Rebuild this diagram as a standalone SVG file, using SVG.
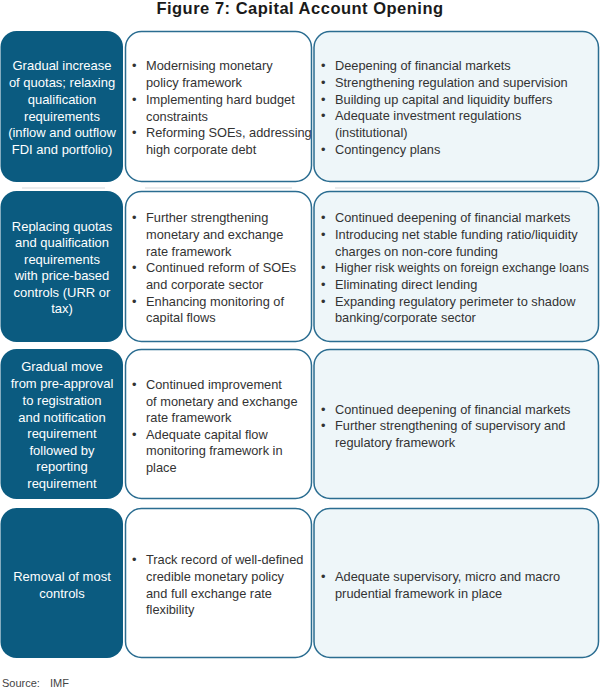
<svg xmlns="http://www.w3.org/2000/svg" width="600" height="689" viewBox="0 0 600 689">
<style>
.dark{fill:#0b5b80;}
.mid{fill:#ffffff;stroke:#2b6d91;stroke-width:1.5;}
.lite{fill:#eef6f9;stroke:#2b6d91;stroke-width:1.5;}
.shadow{fill:none;stroke:#e3e6e8;stroke-width:1.5;}
text{font-family:"Liberation Sans",Arial,sans-serif;}
.title{font-size:16.5px;font-weight:bold;fill:#1a1a1a;letter-spacing:0.5px;}
.dt{font-size:13px;fill:#ffffff;text-anchor:middle;}
.t{font-size:12.8px;fill:#333333;}
.src{font-size:11px;fill:#444444;}
</style>
<rect width="600" height="689" fill="#ffffff"/>
<text class="title" x="300" y="14" text-anchor="middle">Figure 7: Capital Account Opening</text>

<g id="shadows">
<line class="shadow" x1="22" y1="188" x2="105" y2="188"/>
<line class="shadow" x1="145" y1="188" x2="292" y2="188"/>
<line class="shadow" x1="335" y1="188" x2="580" y2="188"/>
</g>

<g id="row1-stage">
<rect class="dark" x="0.5" y="31" width="122.5" height="151" rx="16"/>
<text class="dt"><tspan x="62" y="70">Gradual increase</tspan><tspan x="62" y="87">of quotas; relaxing</tspan><tspan x="62" y="104">qualification</tspan><tspan x="62" y="121">requirements</tspan><tspan x="62" y="137">(inflow and outflow</tspan><tspan x="62" y="154">FDI and portfolio)</tspan></text>
</g>
<g id="row1-macro">
<rect class="mid" x="125.5" y="31.5" width="186" height="150" rx="16"/>
<text class="t"><tspan x="132" y="70">•</tspan><tspan x="146" y="70">Modernising monetary</tspan><tspan x="146" y="87">policy framework</tspan><tspan x="132" y="104">•</tspan><tspan x="146" y="104">Implementing hard budget</tspan><tspan x="146" y="121">constraints</tspan><tspan x="132" y="137">•</tspan><tspan x="146" y="137">Reforming SOEs, addressing</tspan><tspan x="146" y="154">high corporate debt</tspan></text>
</g>
<g id="row1-fin">
<rect class="lite" x="314" y="31.5" width="284.5" height="150" rx="16"/>
<text class="t"><tspan x="321" y="70">•</tspan><tspan x="335" y="70">Deepening of financial markets</tspan><tspan x="321" y="87">•</tspan><tspan x="335" y="87">Strengthening regulation and supervision</tspan><tspan x="321" y="104">•</tspan><tspan x="335" y="104">Building up capital and liquidity buffers</tspan><tspan x="321" y="120">•</tspan><tspan x="335" y="120">Adequate investment regulations</tspan><tspan x="335" y="137">(institutional)</tspan><tspan x="321" y="154">•</tspan><tspan x="335" y="154">Contingency plans</tspan></text>
</g>

<g id="row2-stage">
<rect class="dark" x="0.5" y="191" width="122.5" height="151" rx="16"/>
<text class="dt"><tspan x="62" y="231">Replacing quotas</tspan><tspan x="62" y="247">and qualification</tspan><tspan x="62" y="264">requirements</tspan><tspan x="62" y="280">with price-based</tspan><tspan x="62" y="297">controls (URR or</tspan><tspan x="62" y="313">tax)</tspan></text>
</g>
<g id="row2-macro">
<rect class="mid" x="125.5" y="191.5" width="186" height="150" rx="16"/>
<text class="t"><tspan x="132" y="222">•</tspan><tspan x="146" y="222">Further strengthening</tspan><tspan x="146" y="239">monetary and exchange</tspan><tspan x="146" y="256">rate framework</tspan><tspan x="132" y="272">•</tspan><tspan x="146" y="272">Continued reform of SOEs</tspan><tspan x="146" y="289">and corporate sector</tspan><tspan x="132" y="306">•</tspan><tspan x="146" y="306">Enhancing monitoring of</tspan><tspan x="146" y="322">capital flows</tspan></text>
</g>
<g id="row2-fin">
<rect class="lite" x="314" y="191.5" width="284.5" height="150" rx="16"/>
<text class="t"><tspan x="321" y="222">•</tspan><tspan x="335" y="222">Continued deepening of financial markets</tspan><tspan x="321" y="239">•</tspan><tspan x="335" y="239">Introducing net stable funding ratio/liquidity</tspan><tspan x="335" y="256">charges on non-core funding</tspan><tspan x="321" y="272">•</tspan></text>
<text class="t" x="335" y="272" textLength="254" lengthAdjust="spacingAndGlyphs">Higher risk weights on foreign exchange loans</text>
<text class="t"><tspan x="321" y="289">•</tspan><tspan x="335" y="289">Eliminating direct lending</tspan><tspan x="321" y="306">•</tspan><tspan x="335" y="306">Expanding regulatory perimeter to shadow</tspan><tspan x="335" y="322">banking/corporate sector</tspan></text>
</g>

<g id="row3-stage">
<rect class="dark" x="0.5" y="349" width="122.5" height="150" rx="16"/>
<text class="dt"><tspan x="62" y="371">Gradual move</tspan><tspan x="62" y="388">from pre-approval</tspan><tspan x="62" y="405">to registration</tspan><tspan x="62" y="422">and notification</tspan><tspan x="62" y="438">requirement</tspan><tspan x="62" y="455">followed by</tspan><tspan x="62" y="471">reporting</tspan><tspan x="62" y="488">requirement</tspan></text>
</g>
<g id="row3-macro">
<rect class="mid" x="125.5" y="349.5" width="186" height="149" rx="16"/>
<text class="t"><tspan x="132" y="389">•</tspan><tspan x="146" y="389">Continued improvement</tspan><tspan x="146" y="406">of monetary and exchange</tspan><tspan x="146" y="422">rate framework</tspan><tspan x="132" y="439">•</tspan><tspan x="146" y="439">Adequate capital flow</tspan><tspan x="146" y="455">monitoring framework in</tspan><tspan x="146" y="472">place</tspan></text>
</g>
<g id="row3-fin">
<rect class="lite" x="314" y="349.5" width="284.5" height="149" rx="16"/>
<text class="t"><tspan x="321" y="414">•</tspan><tspan x="335" y="414">Continued deepening of financial  markets</tspan><tspan x="321" y="430">•</tspan><tspan x="335" y="430">Further strengthening of supervisory and</tspan><tspan x="335" y="447">regulatory framework</tspan></text>
</g>

<g id="row4-stage">
<rect class="dark" x="0.5" y="508" width="122.5" height="150" rx="16"/>
<text class="dt"><tspan x="62" y="581">Removal of most</tspan><tspan x="62" y="598">controls</tspan></text>
</g>
<g id="row4-macro">
<rect class="mid" x="125.5" y="508.5" width="186" height="149" rx="16"/>
<text class="t"><tspan x="132" y="564">•</tspan><tspan x="146" y="564">Track record of well-defined</tspan><tspan x="146" y="581">credible monetary policy</tspan><tspan x="146" y="598">and full exchange rate</tspan><tspan x="146" y="614">flexibility</tspan></text>
</g>
<g id="row4-fin">
<rect class="lite" x="314" y="508.5" width="284.5" height="149" rx="16"/>
<text class="t"><tspan x="321" y="581">•</tspan><tspan x="335" y="581">Adequate supervisory, micro and macro</tspan><tspan x="335" y="598">prudential framework in place</tspan></text>
</g>

<g id="connectors"></g>

<text class="src"><tspan x="2" y="687">Source:</tspan><tspan x="50" y="687">IMF</tspan></text>
</svg>
